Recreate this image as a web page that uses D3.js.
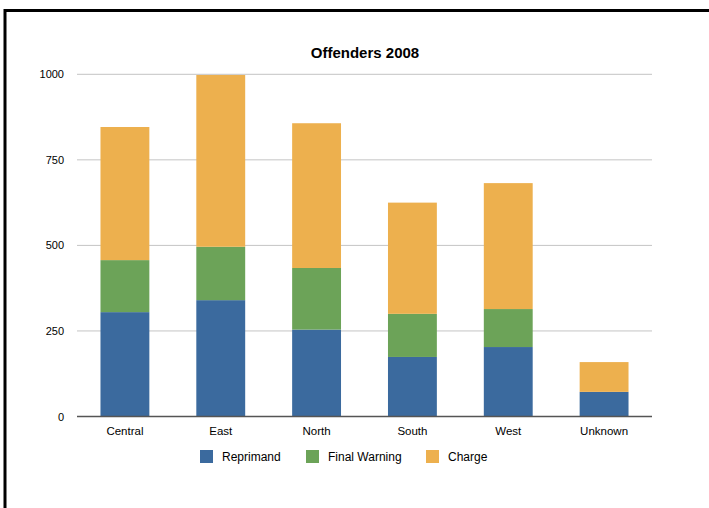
<!DOCTYPE html>
<html>
<head>
<meta charset="utf-8">
<script src="https://cdn.jsdelivr.net/npm/d3@7"></script>
<style>
  html, body { margin: 0; padding: 0; background: #fff; }
  svg { display: block; font-family: "Liberation Sans", Arial, Helvetica, sans-serif; }
</style>
</head>
<body>
<svg id="chart" width="709" height="508"></svg>
<script>
// Offenders by region, 2008
const regions = ["Central", "East", "North", "South", "West", "Unknown"];
const seriesNames = ["Reprimand", "Final Warning", "Charge"];
const reprimand = [305, 340, 254, 174, 203, 72];
const finalWarning = [152, 156, 180, 126, 111, 0];
const charge = [389, 502, 423, 325, 368, 87];
const yTicks = [0, 250, 500, 750, 1000];
const colors = ["#3b6a9e", "#6ca358", "#edb04e"];

const rows = regions.map((r, i) => ({
  region: r,
  "Reprimand": reprimand[i],
  "Final Warning": finalWarning[i],
  "Charge": charge[i]
}));

const svg = d3.select("#chart");
const W = 709, H = 508;
const plot = { left: 77, right: 652, top: 74.3, bottom: 416.5 };

// Frame lines along the top and left edges
svg.append("line").attr("x1", 5).attr("x2", W).attr("y1", 10.5).attr("y2", 10.5)
  .attr("stroke", "#000").attr("stroke-width", 3);
svg.append("line").attr("x1", 5).attr("x2", 5).attr("y1", 9).attr("y2", H)
  .attr("stroke", "#000").attr("stroke-width", 3);

const x = d3.scaleBand().domain(regions).range([plot.left, plot.right])
  .paddingInner(0.49).paddingOuter(0.245);
const y = d3.scaleLinear().domain([0, 1000]).range([plot.bottom, plot.top]);

// Title
svg.append("text").attr("x", 365).attr("y", 57.5).attr("text-anchor", "middle")
  .attr("font-size", 15).attr("font-weight", "bold").attr("fill", "#000")
  .text("Offenders 2008");

// Gridlines
svg.append("g").selectAll("line").data(yTicks.filter(d => d > 0)).join("line")
  .attr("x1", plot.left).attr("x2", plot.right)
  .attr("y1", d => y(d)).attr("y2", d => y(d))
  .attr("stroke", "#c4c4c4").attr("stroke-width", 1);

// Y axis labels
const yAxis = d3.axisLeft(y).tickValues(yTicks).tickFormat(d3.format("d"))
  .tickSize(0).tickPadding(13);
const gy = svg.append("g").attr("transform", `translate(${plot.left},0)`).call(yAxis);
gy.select(".domain").remove();
gy.selectAll("text").attr("font-size", 11).attr("fill", "#000")
  .attr("font-family", "'Liberation Sans', Arial, sans-serif");

// Stacked bars
const stack = d3.stack().keys(seriesNames);
const layers = stack(rows);
svg.append("g").selectAll("g").data(layers).join("g")
  .attr("fill", (d, i) => colors[i])
  .selectAll("rect").data(d => d).join("rect")
  .attr("x", d => x(d.data.region))
  .attr("width", x.bandwidth())
  .attr("y", d => y(d[1]))
  .attr("height", d => Math.max(0, y(d[0]) - y(d[1])));

// X axis
const xAxis = d3.axisBottom(x).tickSize(0).tickPadding(10);
const gx = svg.append("g").attr("transform", `translate(0,${plot.bottom})`).call(xAxis);
gx.select(".domain").attr("stroke", "#555").attr("stroke-width", 1.5)
  .attr("d", `M${plot.left},0H${plot.right}`);
gx.selectAll("text").attr("font-size", 11.5).attr("fill", "#000")
  .attr("font-family", "'Liberation Sans', Arial, sans-serif");

// Legend
const legendX = [200, 306, 426];
const legend = svg.append("g").selectAll("g").data(seriesNames).join("g")
  .attr("transform", (d, i) => `translate(${legendX[i]},450)`);
legend.append("rect").attr("width", 13).attr("height", 13)
  .attr("fill", (d, i) => colors[i]);
legend.append("text").attr("x", 22).attr("y", 6.5).attr("dy", "0.35em")
  .attr("font-size", 12).attr("fill", "#000").text(d => d);
</script>
</body>
</html>
